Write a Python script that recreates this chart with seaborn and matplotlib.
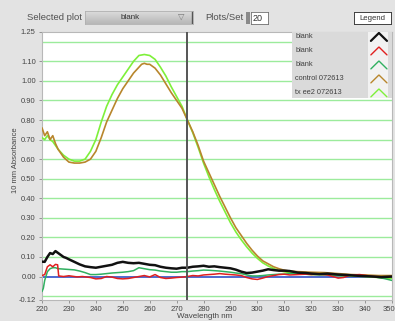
import numpy as np
import pandas as pd
import matplotlib
matplotlib.use("Agg")
import matplotlib.pyplot as plt
import matplotlib.transforms as mtransforms
import seaborn as sns
from matplotlib.patches import Rectangle

sns.set_theme(style="white")
plt.rcParams['font.family'] = ['Liberation Sans', 'DejaVu Sans']

# ---------------- data ----------------
series_names = ["blank", "blank ", "blank  ", "control 072613", "tx ee2 072613"]
legend_labels = ["blank", "blank", "blank", "control 072613", "tx ee2 072613"]
series_colors = ["#111111", "#e02020", "#30b060", "#b8862c", "#7ef03a"]
series_widths = [1.8, 1.1, 1.1, 1.2, 1.2]

wl_black = [220, 221, 222, 223, 224, 225, 226, 227, 228, 229, 230, 232, 234, 236, 238, 240, 242, 244, 246,
            248, 250, 252, 254, 256, 258, 260, 262, 264, 266, 268, 270, 272, 274, 276, 278, 280, 282, 284,
            286, 288, 290, 292, 294, 296, 298, 300, 302, 304, 306, 308, 310, 312, 315, 318, 320, 323, 326,
            330, 333, 336, 340, 343, 346, 350]
abs_black = [0.076, 0.075, 0.10, 0.12, 0.115, 0.13, 0.12, 0.11, 0.10, 0.095, 0.088, 0.075, 0.062, 0.052,
             0.048, 0.045, 0.05, 0.055, 0.06, 0.07, 0.075, 0.07, 0.068, 0.07, 0.065, 0.06, 0.058, 0.05, 0.045,
             0.042, 0.04, 0.045, 0.045, 0.05, 0.052, 0.055, 0.05, 0.052, 0.048, 0.045, 0.042, 0.035, 0.025,
             0.018, 0.02, 0.025, 0.03, 0.037, 0.033, 0.03, 0.03, 0.028, 0.02, 0.018, 0.015, 0.012, 0.015,
             0.01, 0.008, 0.005, 0.002, 0.0, -0.003, 0.0]

wl_red = [220, 221, 222, 223, 224, 225, 225.8, 226.2, 228, 230, 233, 235, 238, 240, 242, 244, 246, 248, 250,
          252, 254, 256, 258, 260, 262, 264, 266, 268, 270, 272, 274, 276, 278, 280, 282, 284, 286, 288,
          290, 292, 294, 296, 298, 300, 302, 304, 306, 308, 310, 312, 315, 318, 320, 323, 326, 328, 330,
          332, 334, 336, 338, 340, 343, 346, 350]
abs_red = [0.005, 0.01, 0.05, 0.06, 0.05, 0.062, 0.06, 0.003, 0.0, 0.004, -0.002, 0.0, -0.005, -0.012,
           -0.01, 0.0, -0.003, -0.01, -0.012, -0.01, -0.005, 0.0, 0.005, -0.002, 0.01, -0.005, -0.01,
           -0.008, -0.005, -0.003, 0.0, 0.005, 0.003, 0.008, 0.01, 0.012, 0.015, 0.012, 0.01, 0.008, 0.005,
           -0.005, -0.012, -0.015, -0.008, 0.0, 0.005, 0.01, 0.012, 0.008, 0.01, 0.012, 0.01, 0.012, 0.008,
           0.0, -0.008, -0.005, 0.005, 0.008, 0.01, 0.006, 0.0, -0.004, 0.0]

wl_green = [220, 220.5, 221, 222, 223, 224, 225, 226, 228, 230, 232, 234, 236, 238, 240, 242, 244, 246, 248,
            250, 252, 254, 256, 258, 260, 262, 264, 266, 268, 270, 272, 274, 276, 278, 280, 282, 284, 286,
            288, 290, 292, 294, 296, 298, 300, 302, 304, 306, 308, 310, 312, 315, 318, 320, 324, 328, 332,
            336, 340, 344, 347, 350]
abs_green = [-0.077, -0.06, -0.02, 0.025, 0.04, 0.045, 0.045, 0.04, 0.038, 0.036, 0.034, 0.028, 0.02, 0.01,
             0.01, 0.012, 0.015, 0.018, 0.02, 0.022, 0.025, 0.03, 0.045, 0.04, 0.035, 0.033, 0.028, 0.025,
             0.022, 0.022, 0.025, 0.025, 0.028, 0.03, 0.033, 0.032, 0.03, 0.028, 0.025, 0.022, 0.018, 0.015,
             0.008, 0.003, 0.003, 0.005, 0.008, 0.01, 0.012, 0.012, 0.015, 0.018, 0.015, 0.012, 0.01, 0.008,
             0.005, 0.005, 0.003, -0.003, -0.01, -0.02]

wl_control = [220, 221, 222, 223, 224, 225, 226, 227, 228, 230, 232, 234, 236, 238, 240, 242, 244, 246, 248,
              250, 252, 254, 256, 257, 258, 259, 260, 262, 264, 266, 268, 270, 272, 274, 276, 278, 280, 282,
              284, 286, 288, 290, 292, 294, 296, 298, 300, 302, 304, 306, 308, 310, 312, 315, 320, 325, 330,
              335, 340, 345, 350]
abs_control = [0.76, 0.72, 0.74, 0.70, 0.72, 0.68, 0.65, 0.63, 0.61, 0.585, 0.58, 0.58, 0.585, 0.60, 0.64,
               0.71, 0.79, 0.85, 0.91, 0.96, 1.00, 1.04, 1.07, 1.085, 1.09, 1.085, 1.085, 1.065, 1.03, 0.985,
               0.94, 0.90, 0.86, 0.80, 0.74, 0.67, 0.59, 0.53, 0.47, 0.41, 0.355, 0.30, 0.25, 0.21, 0.17,
               0.135, 0.105, 0.08, 0.065, 0.05, 0.04, 0.032, 0.028, 0.025, 0.022, 0.02, 0.015, 0.01, 0.008,
               0.005, 0.005]

wl_tx = [220, 221, 222, 223, 224, 226, 228, 230, 232, 234, 236, 238, 240, 242, 244, 246, 248, 250, 252, 254,
         256, 258, 260, 262, 264, 266, 268, 270, 272, 274, 276, 278, 280, 282, 284, 286, 288, 290, 292, 294,
         296, 298, 300, 302, 304, 306, 308, 310, 315, 320, 325, 330, 340, 350]
abs_tx = [0.71, 0.70, 0.72, 0.70, 0.69, 0.65, 0.62, 0.60, 0.59, 0.59, 0.60, 0.64, 0.70, 0.79, 0.87, 0.93,
          0.98, 1.02, 1.06, 1.10, 1.13, 1.135, 1.13, 1.11, 1.07, 1.025, 0.97, 0.92, 0.87, 0.80, 0.735, 0.66,
          0.58, 0.51, 0.445, 0.385, 0.33, 0.275, 0.228, 0.188, 0.152, 0.12, 0.093, 0.07, 0.054, 0.041, 0.031,
          0.024, 0.015, 0.01, 0.01, 0.005, 0.0, -0.01]

series_wl = [wl_black, wl_red, wl_green, wl_control, wl_tx]
series_abs = [abs_black, abs_red, abs_green, abs_control, abs_tx]

x_ticks = [220, 230, 240, 250, 260, 270, 280, 290, 300, 310, 320, 330, 340, 350]
y_ticks = [-0.12, 0.0, 0.10, 0.20, 0.30, 0.40, 0.50, 0.60, 0.70, 0.80, 0.90, 1.00, 1.10, 1.25]
y_tick_labels = ["-0.12", "0.00", "0.10", "0.20", "0.30", "0.40", "0.50", "0.60", "0.70", "0.80",
                 "0.90", "1.00", "1.10", "1.25"]
grid_levels = [-0.1, 0.1, 0.2, 0.3, 0.4, 0.5, 0.6, 0.7, 0.8, 0.9, 1.0, 1.1, 1.2]
cursor_wl = 274

# ---------------- figure ----------------
BG = "#e3e3e3"
fig = plt.figure(figsize=(3.95, 3.21), dpi=100, facecolor=BG)
W, H = 395.0, 321.0

def fx(px):
    return px / W

def fy(py):
    return 1 - py / H

ax = fig.add_axes([fx(42), fy(300), fx(392) - fx(42), fy(32) - fy(300)])
ax.set_facecolor("white")

for lvl in grid_levels:
    ax.axhline(lvl, color="#9ceb9c", lw=1.0, zorder=0)
ax.axhline(0.0, color="#3050c8", lw=1.2, zorder=1)

frames = []
for name, w, a in zip(series_names, series_wl, series_abs):
    frames.append(pd.DataFrame({"wl": w, "abs": a, "series": name}))
df = pd.concat(frames, ignore_index=True)

# draw in reverse so the blank curves sit on top
for name, col, lw in reversed(list(zip(series_names, series_colors, series_widths))):
    sns.lineplot(data=df[df["series"] == name], x="wl", y="abs", color=col, lw=lw, ax=ax,
                 legend=False, zorder=3)

ax.axvline(cursor_wl, color="#555555", lw=1.4, zorder=4)

ax.set_xlim(220, 350)
ax.set_ylim(-0.12, 1.25)
ax.set_xticks(x_ticks)
ax.set_xticklabels([str(t) for t in x_ticks])
ax.set_yticks(y_ticks)
ax.set_yticklabels(y_tick_labels)
ax.tick_params(axis="both", labelsize=5.5, colors="#888888", length=2.5, width=0.6, pad=2,
               direction="out", left=True, bottom=True)
for lab in ax.get_xticklabels() + ax.get_yticklabels():
    lab.set_color("#444444")
# keep the last x label inside the figure
last = ax.get_xticklabels()[-1]
last.set_horizontalalignment("right")
last.set_transform(last.get_transform() + mtransforms.ScaledTranslation(3 / 100, 0, fig.dpi_scale_trans))
ax.set_xlabel("")
ax.set_ylabel("")
for s in ax.spines.values():
    s.set_color("#b8b8b8")
    s.set_linewidth(0.8)

fig.text(fx(16), fy(160), "10 mm Absorbance", rotation=90, ha="center", va="center",
         fontsize=5.5, color="#444444")
fig.text(fx(205), fy(320.5), "Wavelength nm", ha="center", va="bottom", fontsize=5.8, color="#444444")

# ---------------- legend panel ----------------
lg = fig.add_axes([fx(291.5), fy(98), fx(392) - fx(291.5), fy(32) - fy(98)])
lg.set_xlim(0, 1)
lg.set_ylim(0, 1)
lg.set_facecolor("#dadada")
lg.set_xticks([])
lg.set_yticks([])
for s in lg.spines.values():
    s.set_visible(False)
lg.add_patch(Rectangle((0.76, 0.0), 0.20, 1.0, facecolor="#f2f2f2", edgecolor="none"))
for i, (lab, col) in enumerate(zip(legend_labels, series_colors)):
    yc = 0.925 - i * 0.212
    lg.text(0.035, yc, lab, fontsize=5.3, color="#404040", va="center", ha="left")
    lg.plot([0.79, 0.87, 0.95], [yc - 0.06, yc + 0.06, yc - 0.06], color=col,
            lw=1.6 if i == 0 else 1.0, solid_joinstyle="miter")

# ---------------- top control bar ----------------
fig.text(fx(27), fy(18), "Selected plot", fontsize=6.8, color="#505050", va="center", ha="left")
cb = fig.add_axes([fx(85), fy(24), fx(193) - fx(85), fy(11) - fy(24)])
grad = np.linspace(0.86, 0.72, 20).reshape(-1, 1)
cb.imshow(grad, aspect="auto", cmap="gray", vmin=0, vmax=1, extent=[0, 1, 0, 1])
cb.set_xticks([])
cb.set_yticks([])
for s in cb.spines.values():
    s.set_color("#b0b0b0")
    s.set_linewidth(0.6)
cb.axvline(0.995, color="#555555", lw=1.0)
cb.text(0.42, 0.5, "blank", fontsize=5.8, color="#333333", ha="center", va="center")
cb.text(0.89, 0.5, "\u25bd", fontsize=6, color="#777777", ha="center", va="center")

fig.text(fx(205), fy(18), "Plots/Set", fontsize=6.8, color="#505050", va="center", ha="left")
sp = fig.add_axes([fx(246), fy(24), fx(249.5) - fx(246), fy(12) - fy(24)])
sp.set_facecolor("#8a8a8a")
sp.set_xticks([])
sp.set_yticks([])
for s in sp.spines.values():
    s.set_visible(False)
bx = fig.add_axes([fx(251), fy(24), fx(268) - fx(251), fy(12) - fy(24)])
bx.set_facecolor("white")
bx.set_xticks([])
bx.set_yticks([])
for s in bx.spines.values():
    s.set_color("#707070")
    s.set_linewidth(0.6)
bx.text(0.08, 0.45, "20", fontsize=6.5, color="#333333", ha="left", va="center")

lb = fig.add_axes([fx(354), fy(24), fx(391) - fx(354), fy(12) - fy(24)])
lb.set_facecolor("white")
lb.set_xticks([])
lb.set_yticks([])
for s in lb.spines.values():
    s.set_color("#404040")
    s.set_linewidth(0.7)
lb.text(0.5, 0.45, "Legend", fontsize=5.6, color="#333333", ha="center", va="center")

fig.savefig("out.png", dpi=100, facecolor=BG)
